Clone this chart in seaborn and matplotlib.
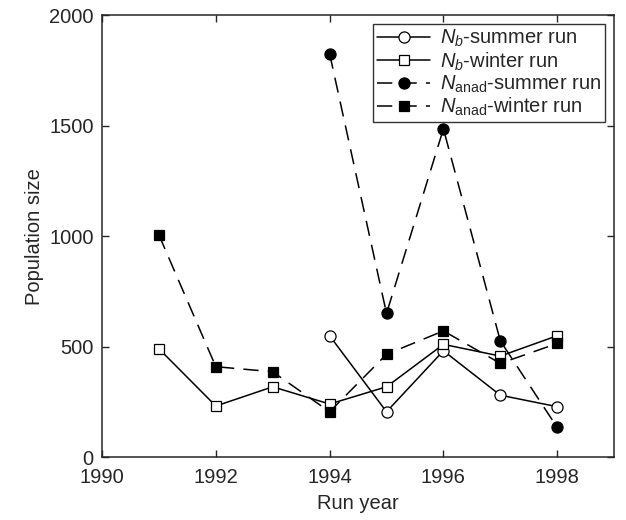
import pandas as pd
import seaborn as sns
import matplotlib
matplotlib.use("Agg")
import matplotlib.pyplot as plt

sns.set_style("ticks")
plt.rcParams['font.family'] = ['Liberation Sans', 'DejaVu Sans']
plt.rcParams['mathtext.fontset'] = 'custom'
plt.rcParams['mathtext.rm'] = 'Liberation Sans'
plt.rcParams['mathtext.it'] = 'Liberation Sans:italic'

# data
years_all = [1991, 1992, 1993, 1994, 1995, 1996, 1997, 1998]
years_summer = [1994, 1995, 1996, 1997, 1998]

nb_summer = [549, 205, 481, 280, 228]
nb_winter = [490, 231, 318, 240, 318, 510, 457, 549]
nanad_summer = [1825, 650, 1485, 526, 134]
nanad_winter = [1005, 409, 386, 205, 465, 571, 424, 514]

labels = [r'$N_b$-summer run', r'$N_b$-winter run',
          r'$N_{\rm anad}$-summer run', r'$N_{\rm anad}$-winter run']

frames = [
    pd.DataFrame({'year': years_summer, 'size': nb_summer, 'series': labels[0]}),
    pd.DataFrame({'year': years_all, 'size': nb_winter, 'series': labels[1]}),
    pd.DataFrame({'year': years_summer, 'size': nanad_summer, 'series': labels[2]}),
    pd.DataFrame({'year': years_all, 'size': nanad_winter, 'series': labels[3]}),
]

dash = (0, (10, 6))
styles = [
    dict(marker='o', ls='-', mfc='white', ms=8),
    dict(marker='s', ls='-', mfc='white', ms=7),
    dict(marker='o', ls=dash, mfc='black', ms=8),
    dict(marker='s', ls=dash, mfc='black', ms=7.5),
]

fig, ax = plt.subplots(figsize=(6.26, 5.2), dpi=100)
fig.subplots_adjust(left=0.163, right=0.981, top=0.971, bottom=0.121)

for df, st in zip(frames, styles):
    sns.lineplot(data=df, x='year', y='size', ax=ax, color='black', lw=1.1,
                 marker=st['marker'], linestyle=st['ls'], markerfacecolor=st['mfc'],
                 markeredgecolor='black', markeredgewidth=0.9, markersize=st['ms'],
                 label=df['series'].iloc[0])

ax.set_xlim(1990, 1999)
ax.set_ylim(0, 2000)
ax.set_xticks([1990, 1992, 1994, 1996, 1998])
ax.set_yticks([0, 500, 1000, 1500, 2000])
ax.tick_params(direction='in', top=True, right=True, labelsize=14.5, length=5, width=1)
ax.tick_params(axis='x', pad=8)
ax.tick_params(axis='y', pad=6)
for sp in ax.spines.values():
    sp.set_linewidth(1.1)
ax.set_xlabel('Run year', fontsize=14.5, labelpad=5)
ax.set_ylabel('Population size', fontsize=14.5, labelpad=4)

leg = ax.legend(loc='upper right', fontsize=14.5, frameon=True, fancybox=False,
                edgecolor='black', handlelength=2.6, borderpad=0.2,
                labelspacing=0.05, handletextpad=0.5, borderaxespad=0.45)
leg.get_frame().set_linewidth(1.0)

plt.savefig('out.png', dpi=100)
